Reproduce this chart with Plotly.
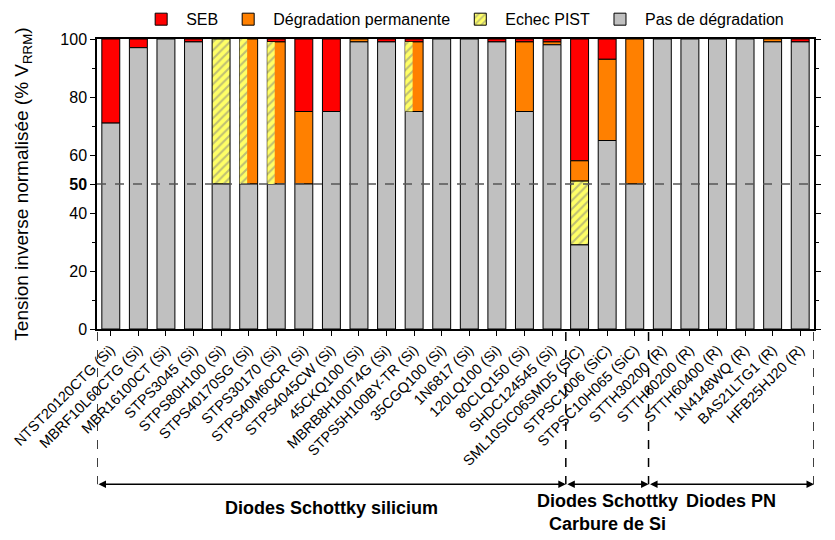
import numpy as np
import plotly.graph_objects as go

categories = ["NTST20120CTG (Si)", "MBRF10L60CTG (Si)", "MBR16100CT (Si)", "STPS3045 (Si)",
              "STPS80H100 (Si)", "STPS40170SG (Si)", "STPS30170 (Si)", "STPS40M60CR (Si)",
              "STPS4045CW (Si)", "45CKQ100 (Si)", "MBRB8H100T4G (Si)", "STPS5H100BY-TR (Si)",
              "35CGQ100 (Si)", "1N6817 (Si)", "120LQ100 (Si)", "80CLQ150 (Si)", "SHDC124545 (Si)",
              "SML10SIC06SMD5 (SiC)", "STPSC1006 (SiC)", "STPSC10H065 (SiC)",
              "STTH30200 (R)", "STTH60200 (R)", "STTH60400 (R)", "1N4148WQ (R)",
              "BAS21LTG1 (R)", "HFB25HJ20 (R)"]

# segment heights (% VRRM), stacked bottom -> top: pas, pist, perm, seb
pas_degradation = [71, 97, 100, 99, 50, 50, 50, 50, 75, 99, 99, 75, 100, 100, 99, 75, 98,
                   29, 65, 50, 100, 100, 100, 100, 99, 99]
echec_pist = [0, 0, 0, 0, 50, 0, 0, 0, 0, 0, 0, 0, 0, 0, 0, 0, 0,
              22, 0, 0, 0, 0, 0, 0, 0, 0]
degradation_perm = [0, 0, 0, 0, 0, 50, 49, 25, 0, 1, 0, 24, 0, 0, 0, 24, 1,
                    7, 28, 50, 0, 0, 0, 0, 1, 0]
seb = [29, 3, 0, 1, 0, 0, 1, 25, 25, 0, 1, 1, 0, 0, 1, 1, 1,
       42, 7, 0, 0, 0, 0, 0, 0, 1]
# PIST failure drawn partially over the permanent-degradation segment
echec_pist_partiel = [0, 0, 0, 0, 0, 50, 49, 0, 0, 0, 0, 24, 0, 0, 0, 0, 0,
                      0, 0, 0, 0, 0, 0, 0, 0, 0]

group_names = ["Diodes Schottky silicium", "Diodes Schottky<br>Carbure de Si", "Diodes PN"]
group_sizes = [17, 3, 6]

x = np.arange(len(categories))
pas_a = np.array(pas_degradation, float)
pist_a = np.array(echec_pist, float)
perm_a = np.array(degradation_perm, float)
seb_a = np.array(seb, float)
part_a = np.array(echec_pist_partiel, float)

def nz(a):
    return [v if v > 0 else None for v in a]

BW = 0.65
line = dict(color="black", width=1)
hatch = dict(shape="/", fgcolor="#808080", size=6, solidity=0.35, fillmode="overlay")
fig = go.Figure()
fig.add_trace(go.Bar(x=x, y=nz(seb_a), base=pas_a + pist_a + perm_a, name="SEB", width=BW,
                     marker=dict(color="#ff0000", line=line)))
fig.add_trace(go.Bar(x=x, y=nz(perm_a), base=pas_a + pist_a, name="Dégradation permanente", width=BW,
                     marker=dict(color="#ff8000", line=line)))
fig.add_trace(go.Bar(x=x, y=nz(pist_a), base=pas_a, name="Echec PIST", width=BW,
                     marker=dict(color="#ffff66", line=line, pattern=hatch)))
fig.add_trace(go.Bar(x=x, y=nz(pas_a), base=0, name="Pas de dégradation", width=BW,
                     marker=dict(color="#c0c0c0", line=line)))
fig.add_trace(go.Bar(x=x, y=nz(part_a), base=pas_a, width=0.27, offset=-BW / 2, showlegend=False,
                     marker=dict(color="#ffff66", line=dict(width=0), pattern=hatch)))

# 50 % reference line
fig.add_hline(y=50, line=dict(color="#555555", width=1.5, dash="dash"), layer="above")

# group separators and arrows
bounds = np.concatenate([[0], np.cumsum(group_sizes)]) - 0.5
y_arrow = -0.535
for b in bounds:
    fig.add_shape(type="line", xref="x", yref="paper", x0=b, x1=b, y0=-0.01, y1=y_arrow,
                  line=dict(color="black", width=1.5, dash="dash"))
text_y = [-0.575, -0.55, -0.55]
for i, name in enumerate(group_names):
    a, c = bounds[i], bounds[i + 1]
    fig.add_annotation(x=c, y=y_arrow, xref="x", yref="y domain", ax=a, ay=y_arrow,
                       axref="x", ayref="y domain", text="", showarrow=True,
                       arrowhead=2, startarrowhead=2, arrowside="end+start",
                       arrowsize=1, arrowwidth=1.5, arrowcolor="black")
    fig.add_annotation(x=(a + c) / 2, y=text_y[i], xref="x", yref="paper", text="<b>" + name + "</b>",
                       showarrow=False, yanchor="top",
                       font=dict(family="Liberation Sans, Arial", size=18, color="black"))

fig.update_layout(
    barmode="overlay",
    width=835, height=540,
    margin=dict(l=89, r=29, t=31, b=219, autoexpand=False),
    plot_bgcolor="white", paper_bgcolor="white",
    font=dict(family="Liberation Sans, Arial", size=15, color="black"),
    legend=dict(orientation="h", x=0.51, xanchor="center", y=1.068, yanchor="middle",
                traceorder="normal", font=dict(size=16), itemwidth=40),
    showlegend=True,
)
fig.update_xaxes(range=[-0.5, 25.5], tickmode="array", tickvals=x, ticktext=categories,
                 tickangle=-45, ticks="outside", ticklen=5, tickcolor="black",
                 ticklabeloverflow="allow",
                 showline=True, linecolor="black", linewidth=1.5, mirror=True, automargin=False,
                 showgrid=False, zeroline=False, tickfont=dict(size=14.5))
fig.update_yaxes(range=[0, 100], tickmode="array", tickvals=[0, 20, 40, 50, 60, 80, 100],
                 ticktext=["0", "20", "40", "<b>50</b>", "60", "80", "100"],
                 ticks="outside", ticklen=5, tickcolor="black",
                 minor=dict(tickvals=[10, 30, 70, 90], ticks="outside", ticklen=3, tickcolor="black"),
                 showline=True, linecolor="black", linewidth=1.5, mirror="ticks", automargin=False,
                 showgrid=False, zeroline=False, tickfont=dict(size=16),
                 title=dict(text="Tension inverse normalisée (% V<sub>RRM</sub>)", font=dict(size=19),
                            standoff=27))

fig.write_html("out.html")
